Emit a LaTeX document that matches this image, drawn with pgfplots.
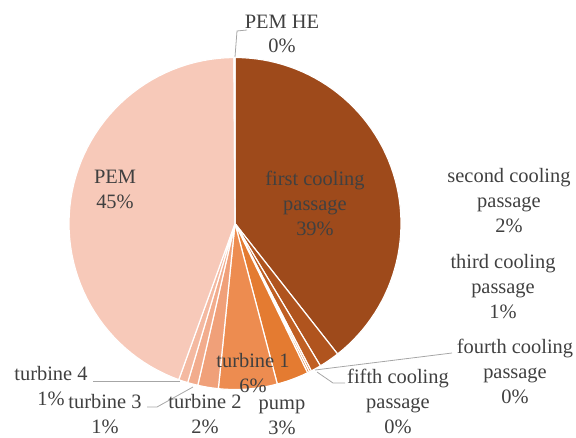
\documentclass[border=0pt]{standalone}
\usepackage{fontspec}
\setmainfont{Liberation Serif}
\usepackage{pgfplots}
\pgfplotsset{compat=1.18}
\definecolor{c1}{RGB}{158,74,27}
\definecolor{c2}{RGB}{176,84,30}
\definecolor{c3}{RGB}{192,95,35}
\definecolor{c4}{RGB}{208,106,40}
\definecolor{c5}{RGB}{218,114,44}
\definecolor{c6}{RGB}{228,123,49}
\definecolor{c7}{RGB}{237,140,80}
\definecolor{c8}{RGB}{240,160,121}
\definecolor{c9}{RGB}{242,172,141}
\definecolor{c10}{RGB}{244,185,161}
\definecolor{c11}{RGB}{247,201,185}
\definecolor{c12}{RGB}{248,212,199}
\definecolor{txt}{RGB}{64,64,64}
\definecolor{lead}{RGB}{166,166,166}
\tikzset{lbl/.style={font=\fontsize{20.5}{25}\selectfont, text=txt, align=center, inner sep=0pt, anchor=base}}
\begin{document}
\begin{tikzpicture}
\begin{axis}[hide axis, scale only axis, width=576bp, height=438bp,
  xmin=0, xmax=576, ymin=0, ymax=438, y dir=reverse, clip=false]
\path (axis cs:0,0) rectangle (axis cs:576,438);
\xdef\angA{0}
\foreach \v/\c in {39.4/c1,2.0/c2,1.0/c3,0.2/c4,0.2/c5,3.1/c6,5.7/c7,2.0/c8,1.0/c9,0.9/c10,44.4/c11,0.1/c12}{
  \pgfmathsetmacro\angB{\angA+3.6*\v}
  \edef\temp{\noexpand\addplot[fill=\c, draw=white, line width=1.2pt, line join=round, domain=\angA:\angB, samples=60] ({235+166*sin(x)},{223.5-166*cos(x)}) -- (axis cs:235,223.5) -- cycle;}
  \temp
  \xdef\angA{\angB}
}
\draw[lead, line width=0.8pt] (axis cs:235,57) -- (axis cs:237,31) -- (axis cs:247,30);
\draw[lead, line width=0.8pt] (axis cs:315,370) -- (axis cs:452,353);
\draw[lead, line width=0.8pt] (axis cs:317,372) -- (axis cs:333,383) -- (axis cs:345,383);
\draw[lead, line width=0.8pt] (axis cs:180,381) -- (axis cs:93,381);
\draw[lead, line width=0.8pt] (axis cs:193,387) -- (axis cs:157,407) -- (axis cs:147,407);
\node[lbl] at (axis cs:282,53) {PEM HE\\0\%};
\node[lbl] at (axis cs:315,235) {first cooling\\passage\\39\%};
\node[lbl] at (axis cs:115,208) {PEM\\45\%};
\node[lbl] at (axis cs:509,232) {second cooling\\passage\\2\%};
\node[lbl] at (axis cs:503,318) {third cooling\\passage\\1\%};
\node[lbl] at (axis cs:515,403) {fourth cooling\\passage\\0\%};
\node[lbl] at (axis cs:398,433) {fifth cooling\\passage\\0\%};
\node[lbl] at (axis cs:282,434) {pump\\3\%};
\node[lbl] at (axis cs:253,392) {turbine 1\\6\%};
\node[lbl] at (axis cs:205,433) {turbine 2\\2\%};
\node[lbl] at (axis cs:105,433) {turbine 3\\1\%};
\node[lbl] at (axis cs:51,405) {turbine 4\\1\%};
\end{axis}
\end{tikzpicture}
\end{document}
